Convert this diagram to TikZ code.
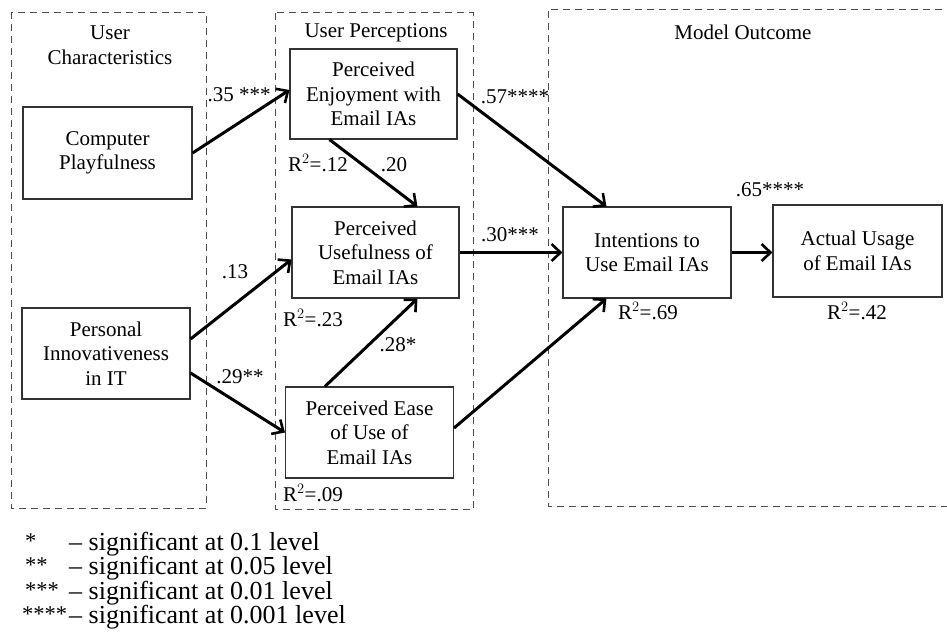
\documentclass[tikz,border=0pt]{standalone}
\usepackage{fontspec}
\setmainfont{Liberation Serif}
\usetikzlibrary{arrows.meta,calc}
\begin{document}
\begin{tikzpicture}[x=1pt,y=-1pt,
  every node/.style={font=\fontsize{21}{24.5}\selectfont},
  box/.style={draw=black!80,line width=1.1pt,rectangle,align=center,inner sep=0pt},
  grp/.style={draw=black!70,line width=1pt,dash pattern=on 7pt off 5pt},
  arr/.style={line width=3pt,-{Straight Barb[length=9pt,width=17pt,line width=2.6pt]}},
  lbl/.style={inner sep=0pt},
  leg/.style={font=\fontsize{26}{24.5}\selectfont,anchor=base west,inner sep=0pt},
  legs/.style={font=\fontsize{22.5}{24.5}\selectfont,anchor=base west,inner sep=0pt}]
\useasboundingbox (0,0) rectangle (947,633);
% groups
\draw[grp] (11,12) rectangle (206,508);
\draw[grp] (275,12.5) rectangle (473,509);
\draw[grp] (954,9) -- (548,9) -- (548,506) -- (954,506);
\node[lbl,align=center] (t1) at (110,45) {User\\Characteristics};
\node[lbl] (t2) at (376,33) {User Perceptions};
\node[lbl] (t3) at (743,32) {Model Outcome};
% nodes
\node[box,minimum width=169,minimum height=92] (cp) at (107.5,153) {Computer\\Playfulness};
\node[box,minimum width=167,minimum height=90] (pe) at (373.5,94) {Perceived\\Enjoyment with\\Email IAs};
\node[box,minimum width=167,minimum height=91] (pu) at (375.5,252.5) {Perceived\\Usefulness of\\Email IAs};
\node[box,minimum width=168,minimum height=91] (pii) at (106,353.5) {Personal\\Innovativeness\\in IT};
\node[box,minimum width=168,minimum height=91] (pease) at (369.5,432.5) {Perceived Ease\\of Use of\\Email IAs};
\node[box,minimum width=168,minimum height=91] (int) at (647,252.5) {Intentions to\\Use Email IAs};
\node[box,minimum width=169,minimum height=92] (au) at (857.5,251) {Actual Usage\\of Email IAs};
% arrows
\draw[arr] (cp.east) -- ([yshift=4pt]pe.west);
\draw[arr] ([xshift=40pt]pe.south west) -- ([xshift=126pt]pu.north west);
\draw[arr] (pe.east) -- ([xshift=44pt]int.north west);
\draw[arr] ([yshift=14.5pt]pii.east) -- ([yshift=-7pt]pu.west);
\draw[arr] ([yshift=-19.5pt]pii.east) -- (pease.west);
\draw[arr] ([xshift=40pt]pease.north west) -- ([xshift=126pt]pu.south west);
\draw[arr] (pu.east) -- (int.west);
\draw[arr] ([yshift=4.5pt]pease.east) -- ([xshift=44pt]int.south west);
\draw[arr] (int.east) -- (au.west |- int.east);
% labels
\node[lbl] (l1) at (239,95) {.35 ***};
\node[lbl] (l2) at (318,163) {R$^2$=.12};
\node[lbl] (l3) at (394,165) {.20};
\node[lbl] (l4) at (515,97) {.57****};
\node[lbl] (l5) at (235,272) {.13};
\node[lbl] (l6) at (313,318) {R$^2$=.23};
\node[lbl] (l7) at (398,345) {.28*};
\node[lbl] (l8) at (240,377) {.29**};
\node[lbl] (l9) at (510,235) {.30***};
\node[lbl] (l10) at (770,190) {.65****};
\node[lbl] (l11) at (648,311) {R$^2$=.69};
\node[lbl] (l12) at (857,311) {R$^2$=.42};
\node[lbl] (l13) at (313,493) {R$^2$=.09};
% legend
\node[legs] (s1) at (25,548) {*};
\node[legs] (s2) at (25,572.5) {**};
\node[legs] (s3) at (25,597) {***};
\node[legs] (s4) at (22,621.5) {****};
\node[leg] (d1) at (69,550) {– significant at 0.1 level};
\node[leg] (d2) at (69,574.5) {– significant at 0.05 level};
\node[leg] (d3) at (69,599) {– significant at 0.01 level};
\node[leg] (d4) at (69,623.5) {– significant at 0.001 level};
\end{tikzpicture}
\end{document}
